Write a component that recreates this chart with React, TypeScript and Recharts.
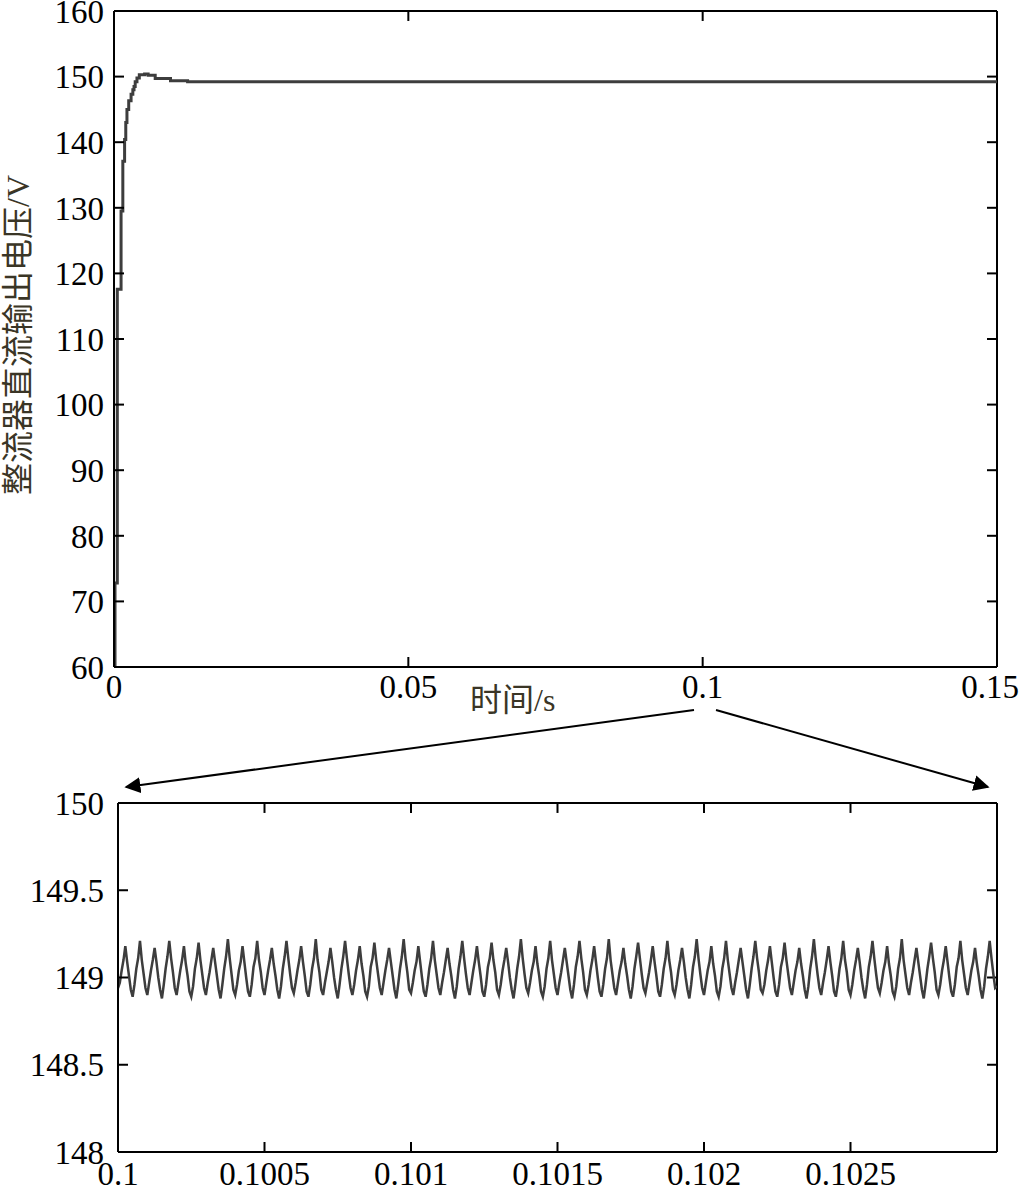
import { LineChart, Line, XAxis, YAxis, ReferenceLine } from "recharts";

/* ---------- data ---------- */

// start-up transient of the DC output (s, V)
const startTime = [
  0, 0.00017, 0.00056, 0.0012, 0.0015, 0.0018, 0.002, 0.0022, 0.0025, 0.0029,
  0.0032, 0.0034, 0.0036, 0.0039, 0.0043, 0.0052, 0.0058, 0.007, 0.0096, 0.0125, 0.15,
];
const startVoltage = [
  60, 72.8, 117.6, 129.5, 137.1, 140.4, 143, 145, 146.3, 147.3,
  148.0, 148.5, 149.2, 149.8, 150.3, 150.4, 150.2, 149.7, 149.35, 149.2, 149.2,
];

const topXTicks = [0, 0.05, 0.1, 0.15];
const topYTicks = [60, 70, 80, 90, 100, 110, 120, 130, 140, 150, 160];

// zoom 0.1 s .. 0.103 s, sampled every 6.25 us (8 samples per 50 us ripple period)
const rippleStart = 0.1;
const rippleStep = 0.00000625;
const rippleVoltage = [
  148.94, 148.97, 149.04, 149.1, 149.18, 149.09, 149.01, 148.93,
  148.89, 148.96, 149.05, 149.11, 149.21, 149.1, 149.02, 148.94,
  148.9, 148.97, 149.04, 149.1, 149.17, 149.09, 149.0, 148.93,
  148.88, 148.96, 149.05, 149.12, 149.21, 149.11, 149.03, 148.94,
  148.9, 148.97, 149.04, 149.1, 149.18, 149.08, 149.01, 148.92,
  148.89, 148.95, 149.05, 149.11, 149.2, 149.1, 149.02, 148.94,
  148.9, 148.97, 149.03, 149.1, 149.17, 149.09, 149.01, 148.93,
  148.88, 148.96, 149.05, 149.12, 149.22, 149.11, 149.02, 148.93,
  148.9, 148.96, 149.04, 149.09, 149.18, 149.09, 149.0, 148.92,
  148.89, 148.96, 149.06, 149.11, 149.21, 149.1, 149.03, 148.94,
  148.9, 148.97, 149.04, 149.1, 149.17, 149.08, 149.01, 148.93,
  148.88, 148.95, 149.05, 149.12, 149.21, 149.11, 149.02, 148.94,
  148.91, 148.97, 149.04, 149.1, 149.18, 149.09, 149.01, 148.92,
  148.89, 148.96, 149.05, 149.11, 149.22, 149.1, 149.03, 148.93,
  148.9, 148.97, 149.03, 149.09, 149.17, 149.09, 149.0, 148.93,
  148.88, 148.96, 149.05, 149.12, 149.21, 149.11, 149.02, 148.94,
  148.9, 148.96, 149.04, 149.1, 149.18, 149.08, 149.01, 148.92,
  148.89, 148.95, 149.06, 149.11, 149.2, 149.1, 149.02, 148.94,
  148.9, 148.97, 149.04, 149.1, 149.17, 149.09, 149.01, 148.93,
  148.88, 148.96, 149.05, 149.12, 149.22, 149.11, 149.03, 148.93,
  148.91, 148.97, 149.04, 149.09, 149.18, 149.09, 149.0, 148.92,
  148.89, 148.96, 149.05, 149.11, 149.21, 149.1, 149.02, 148.94,
  148.9, 148.97, 149.03, 149.1, 149.17, 149.08, 149.01, 148.93,
  148.88, 148.95, 149.05, 149.12, 149.21, 149.11, 149.02, 148.94,
  148.9, 148.97, 149.04, 149.1, 149.18, 149.09, 149.01, 148.92,
  148.89, 148.96, 149.06, 149.11, 149.2, 149.1, 149.03, 148.93,
  148.9, 148.96, 149.04, 149.1, 149.17, 149.09, 149.0, 148.93,
  148.88, 148.96, 149.05, 149.12, 149.22, 149.11, 149.02, 148.94,
  148.91, 148.97, 149.04, 149.09, 149.18, 149.08, 149.01, 148.92,
  148.89, 148.95, 149.05, 149.11, 149.21, 149.1, 149.02, 148.94,
  148.9, 148.97, 149.03, 149.1, 149.17, 149.09, 149.01, 148.93,
  148.88, 148.96, 149.06, 149.12, 149.21, 149.11, 149.03, 148.93,
  148.9, 148.96, 149.04, 149.1, 149.18, 149.09, 149.0, 148.92,
  148.89, 148.96, 149.05, 149.11, 149.22, 149.1, 149.02, 148.94,
  148.9, 148.97, 149.04, 149.09, 149.17, 149.08, 149.01, 148.93,
  148.88, 148.95, 149.05, 149.12, 149.2, 149.11, 149.02, 148.94,
  148.91, 148.97, 149.03, 149.1, 149.18, 149.09, 149.01, 148.92,
  148.89, 148.96, 149.05, 149.11, 149.21, 149.1, 149.03, 148.93,
  148.9, 148.96, 149.04, 149.1, 149.17, 149.09, 149.0, 148.93,
  148.88, 148.96, 149.06, 149.12, 149.22, 149.11, 149.02, 148.94,
  148.9, 148.97, 149.04, 149.09, 149.18, 149.08, 149.01, 148.92,
  148.89, 148.95, 149.05, 149.11, 149.21, 149.1, 149.02, 148.94,
  148.9, 148.97, 149.03, 149.1, 149.17, 149.09, 149.01, 148.93,
  148.88, 148.96, 149.05, 149.12, 149.21, 149.11, 149.03, 148.93,
  148.91, 148.96, 149.04, 149.1, 149.18, 149.09, 149.0, 148.92,
  148.89, 148.96, 149.06, 149.11, 149.2, 149.1, 149.02, 148.94,
  148.9, 148.97, 149.04, 149.09, 149.17, 149.08, 149.01, 148.93,
  148.88, 148.95, 149.05, 149.12, 149.22, 149.11, 149.02, 148.94,
  148.9, 148.97, 149.03, 149.1, 149.18, 149.09, 149.01, 148.92,
  148.89, 148.96, 149.05, 149.11, 149.21, 149.1, 149.03, 148.93,
  148.9, 148.96, 149.04, 149.1, 149.17, 149.09, 149.0, 148.93,
  148.88, 148.96, 149.06, 149.12, 149.21, 149.11, 149.02, 148.94,
  148.91, 148.97, 149.04, 149.09, 149.18, 149.08, 149.01, 148.92,
  148.89, 148.95, 149.05, 149.11, 149.22, 149.1, 149.02, 148.94,
  148.9, 148.97, 149.03, 149.1, 149.17, 149.09, 149.01, 148.93,
  148.88, 148.96, 149.05, 149.12, 149.2, 149.11, 149.03, 148.93,
  148.9, 148.96, 149.04, 149.1, 149.18, 149.09, 149.0, 148.92,
  148.89, 148.96, 149.06, 149.11, 149.21, 149.1, 149.02, 148.94,
  148.9, 148.97, 149.04, 149.09, 149.17, 149.08, 149.01, 148.93,
  148.88, 148.95, 149.05, 149.12, 149.21, 149.11, 149.02, 148.94,
  148.95,
];

const bottomXTicks = [0.1, 0.1005, 0.101, 0.1015, 0.102, 0.1025];
const bottomYTicks = [148, 148.5, 149, 149.5, 150];

/* ---------- styling ---------- */

const serif = "'Liberation Serif', 'Times New Roman', serif";
const cjk = "'Liberation Serif', 'Noto Sans CJK SC', serif";
const tickFont = { fontSize: 33, fill: "#000", fontFamily: serif };
const axisStroke = { stroke: "#000", strokeWidth: 2 };
const traceColor = "#3d3d3d";
const labelColor = "#3a3526";

const topData = startTime.map((t, i) => ({ t, v: startVoltage[i] }));
const rippleData = rippleVoltage.map((v, i) => ({
  t: Number((rippleStart + i * rippleStep).toFixed(8)),
  v,
}));

// x tick label of the upper plot; the last one is kept inside the page
const TopXTick = (props: any) => {
  const { x, y, payload } = props;
  const last = payload.value === topXTicks[topXTicks.length - 1];
  return (
    <text
      x={last ? x + 22 : x}
      y={y}
      dy="0.71em"
      textAnchor={last ? "end" : "middle"}
      fontSize={33}
      fontFamily={serif}
      fill="#000"
    >
      {String(payload.value)}
    </text>
  );
};

// box edges (top / right) with inward ticks, in data units
function boxLines(
  xMax: number,
  yMax: number,
  xTicks: number[],
  yTicks: number[],
  xLen: number,
  yLen: number,
  prefix: string
) {
  const items = [
    <ReferenceLine key={prefix + "top"} y={yMax} stroke="#000" strokeWidth={2} ifOverflow="visible" />,
    <ReferenceLine key={prefix + "right"} x={xMax} stroke="#000" strokeWidth={2} ifOverflow="visible" />,
  ];
  xTicks.forEach((t) =>
    items.push(
      <ReferenceLine
        key={prefix + "tx" + t}
        segment={[{ x: t, y: yMax }, { x: t, y: yMax - yLen }]}
        stroke="#000"
        strokeWidth={2}
        ifOverflow="visible"
      />
    )
  );
  yTicks.forEach((v) =>
    items.push(
      <ReferenceLine
        key={prefix + "ty" + v}
        segment={[{ x: xMax, y: v }, { x: xMax - xLen, y: v }]}
        stroke="#000"
        strokeWidth={2}
        ifOverflow="visible"
      />
    )
  );
  return items;
}

export default function App() {
  return (
    <div
      style={{
        position: "absolute",
        left: 0,
        top: 0,
        width: 1021,
        height: 1190,
        background: "#fff",
        overflow: "hidden",
      }}
    >
      {/* upper plot: whole start-up */}
      <div style={{ position: "absolute", left: 0, top: 0 }}>
        <LineChart width={1021} height={720} data={topData} margin={{ top: 11, right: 24, left: 0, bottom: 0 }}>
          <XAxis
            dataKey="t"
            type="number"
            domain={[0, 0.15]}
            ticks={topXTicks}
            allowDataOverflow
            interval={0}
            height={53}
            tickSize={-10}
            tickMargin={18}
            tick={<TopXTick />}
            axisLine={axisStroke}
            tickLine={axisStroke}
          />
          <YAxis
            type="number"
            domain={[60, 160]}
            ticks={topYTicks}
            allowDataOverflow
            interval={0}
            width={114}
            tickSize={-10}
            tickMargin={20}
            tick={tickFont}
            axisLine={axisStroke}
            tickLine={axisStroke}
          />
          {boxLines(0.15, 160, topXTicks.slice(1, -1), topYTicks.slice(1, -1), 0.0017, 1.52, "a")}
          <Line
            type="stepAfter"
            dataKey="v"
            stroke={traceColor}
            strokeWidth={3}
            dot={false}
            isAnimationActive={false}
          />
        </LineChart>
      </div>

      {/* lower plot: zoom around 0.1 s */}
      <div style={{ position: "absolute", left: 0, top: 760 }}>
        <LineChart width={1021} height={430} data={rippleData} margin={{ top: 43, right: 24, left: 0, bottom: 0 }}>
          <XAxis
            dataKey="t"
            type="number"
            domain={[0.1, 0.103]}
            ticks={bottomXTicks}
            allowDataOverflow
            interval={0}
            height={38}
            tickSize={-10}
            tickMargin={20}
            tick={tickFont}
            axisLine={axisStroke}
            tickLine={axisStroke}
          />
          <YAxis
            type="number"
            domain={[148, 150]}
            ticks={bottomYTicks}
            allowDataOverflow
            interval={0}
            width={118}
            tickSize={-10}
            tickMargin={24}
            tick={tickFont}
            axisLine={axisStroke}
            tickLine={axisStroke}
          />
          {boxLines(0.103, 150, bottomXTicks.slice(1), bottomYTicks.slice(1, -1), 0.000034, 0.057, "b")}
          <Line
            type="linear"
            dataKey="v"
            stroke={traceColor}
            strokeWidth={2.5}
            dot={false}
            isAnimationActive={false}
          />
        </LineChart>
      </div>

      {/* axis titles */}
      <div
        style={{
          position: "absolute",
          left: 470,
          top: 680,
          fontSize: 32,
          lineHeight: "40px",
          fontFamily: cjk,
          color: labelColor,
          whiteSpace: "nowrap",
        }}
      >
        时间/s
      </div>
      <div
        style={{
          position: "absolute",
          left: 18 - 200,
          top: 335 - 20,
          width: 400,
          height: 40,
          lineHeight: "40px",
          textAlign: "center",
          fontSize: 32,
          fontFamily: cjk,
          color: labelColor,
          whiteSpace: "nowrap",
          transform: "rotate(-90deg)",
        }}
      >
        整流器直流输出电压/V
      </div>

      {/* zoom arrows */}
      <svg width={1021} height={1190} style={{ position: "absolute", left: 0, top: 0, pointerEvents: "none" }}>
        <defs>
          <marker id="head" viewBox="0 0 10 10" refX="9" refY="5" markerWidth="8" markerHeight="8" orient="auto">
            <path d="M0,0 L10,5 L0,10 z" fill="#000" />
          </marker>
        </defs>
        <line x1={694} y1={710} x2={126} y2={787} stroke="#000" strokeWidth={2} markerEnd="url(#head)" />
        <line x1={716} y1={710} x2={988} y2={787} stroke="#000" strokeWidth={2} markerEnd="url(#head)" />
      </svg>
    </div>
  );
}
